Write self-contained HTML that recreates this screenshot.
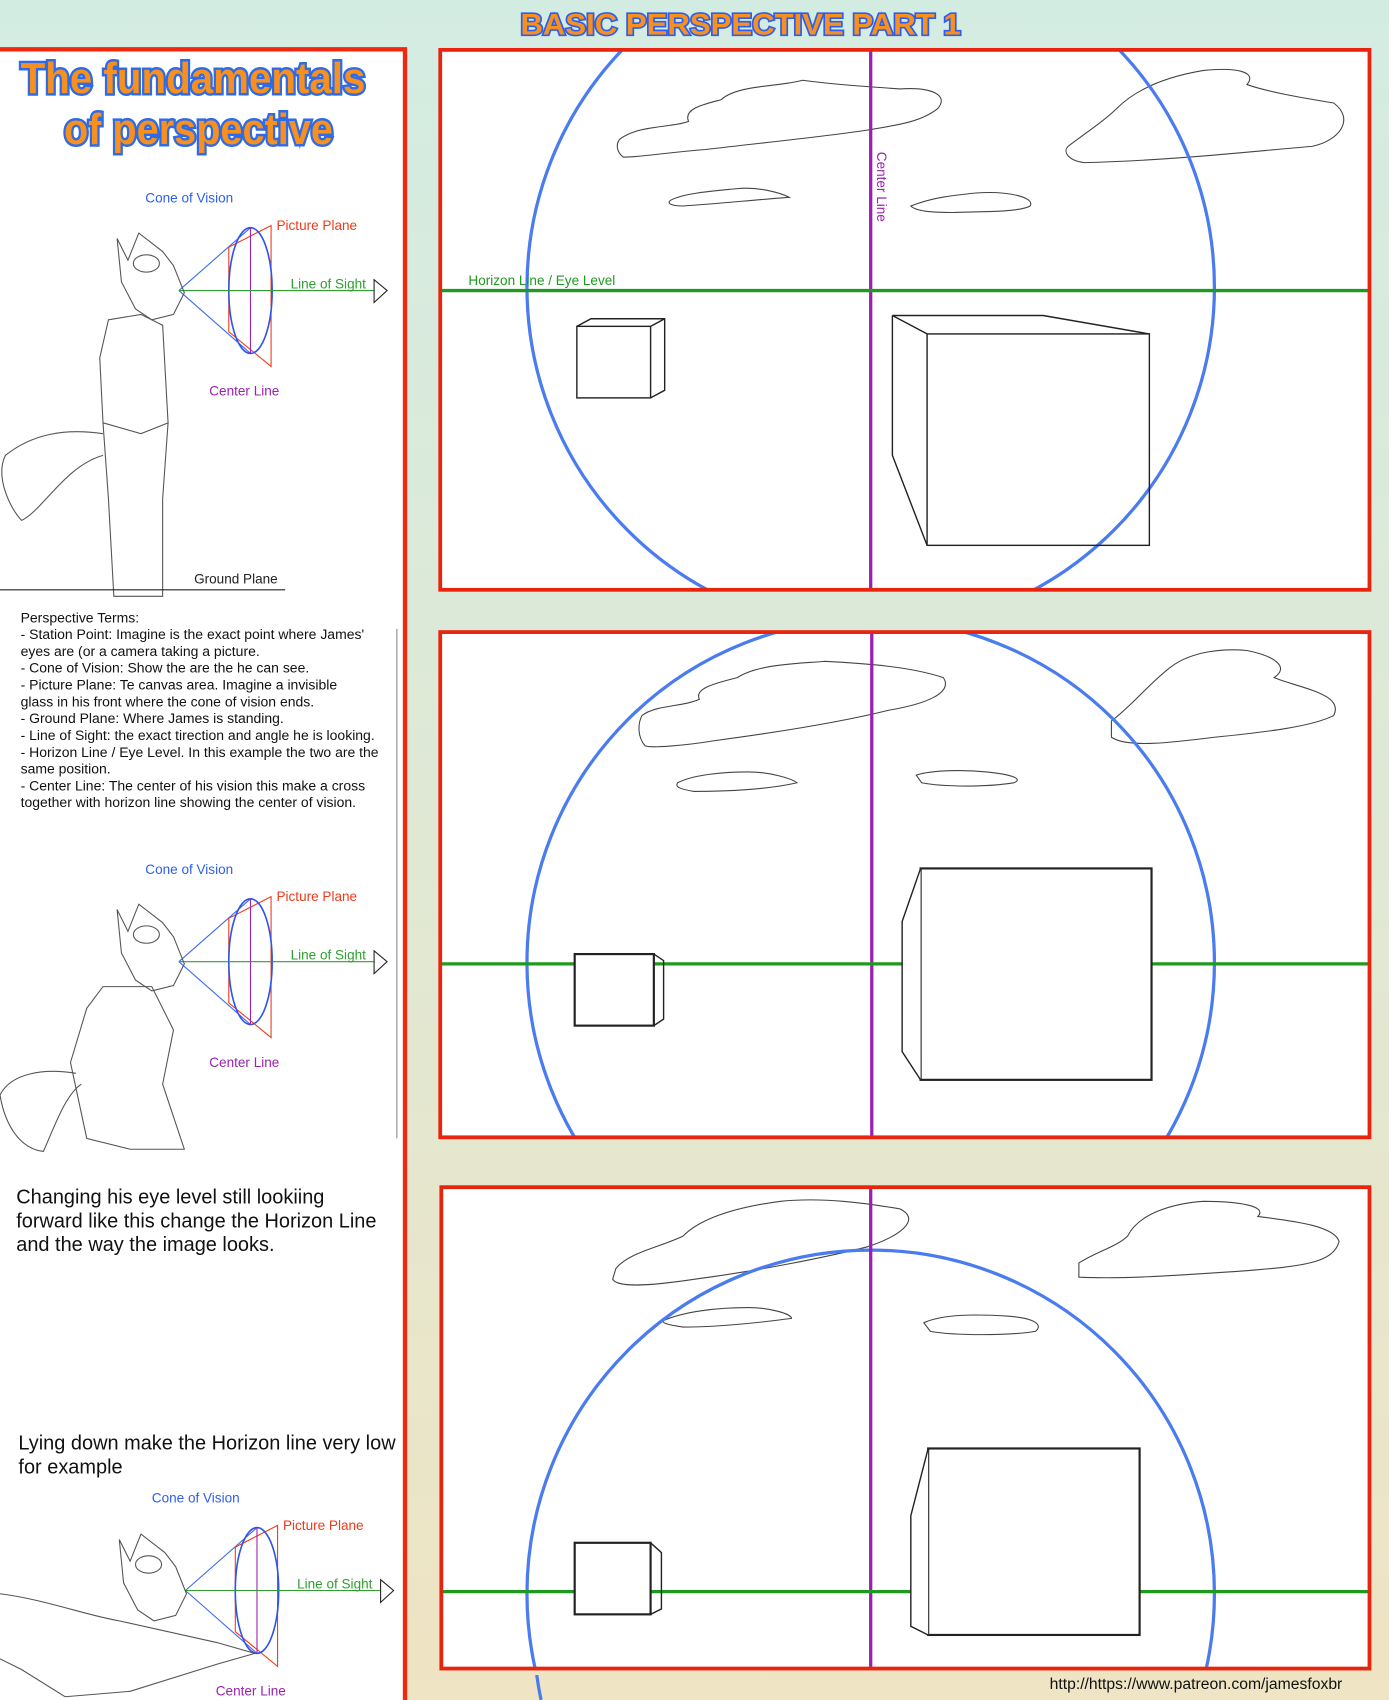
<!DOCTYPE html>
<html><head><meta charset="utf-8"><style>
html,body{margin:0;padding:0;overflow:hidden;width:1389px;height:1700px;}
svg{display:block;}
text{font-family:"Liberation Sans",sans-serif;}
</style></head><body>
<svg width="1389" height="1700" viewBox="0 0 1281 1568" preserveAspectRatio="none" xmlns="http://www.w3.org/2000/svg">
<defs>
<linearGradient id="bg" x1="0" y1="0" x2="0" y2="1">
<stop offset="0" stop-color="#d3ece2"/><stop offset="0.5" stop-color="#e0e8d4"/><stop offset="1" stop-color="#efe4c3"/>
</linearGradient>
<clipPath id="c1"><rect x="407" y="47" width="855" height="496"/></clipPath>
<clipPath id="c2"><rect x="407" y="584" width="855" height="464"/></clipPath>
<clipPath id="c3"><rect x="408" y="1096" width="854" height="442"/></clipPath>
<g id="cone">
<line x1="165" y1="268" x2="231" y2="210" stroke="#3b6cf0" stroke-width="1"/>
<line x1="165" y1="268" x2="231" y2="326" stroke="#3b6cf0" stroke-width="1"/>
<path d="M211 228 L250 208 L250 338 L211 306 Z" fill="none" stroke="#f03a1a" stroke-width="1"/>
<ellipse cx="231" cy="268" rx="20" ry="58" fill="none" stroke="#2d55e8" stroke-width="1.5"/>
<line x1="231" y1="210" x2="231" y2="326" stroke="#a020b0" stroke-width="1"/>
<line x1="165" y1="268" x2="345" y2="268" stroke="#2fa02f" stroke-width="1"/>
<path d="M345 258 L357 268 L345 279 Z" fill="#fff" stroke="#222" stroke-width="1"/>
<text x="134" y="187" font-size="12.5" fill="#2d5ef0">Cone of Vision</text>
<text x="255" y="212" font-size="12.5" fill="#f03a1a">Picture Plane</text>
<text x="268" y="266" font-size="12.5" fill="#2fa02f">Line of Sight</text>
<text x="193" y="365" font-size="12.5" fill="#9a22b0">Center Line</text>
</g>
</defs>
<rect width="1281" height="1568" fill="url(#bg)"/>
<text x="683" y="32" font-size="27" font-weight="bold" text-anchor="middle" fill="#f7901e" stroke="#2d5ef0" stroke-width="3" paint-order="stroke" textLength="406" lengthAdjust="spacingAndGlyphs">BASIC PERSPECTIVE PART 1</text>

<rect x="0" y="44" width="374" height="1524" fill="#fff"/>
<path d="M0 45.5 H373.5 V1568" fill="none" stroke="#f2280e" stroke-width="4"/>
<g font-size="40" font-weight="bold" fill="#f7901e" stroke="#2d6be8" stroke-width="4.5" paint-order="stroke" text-anchor="middle">
<text x="178" y="86" textLength="318" lengthAdjust="spacingAndGlyphs">The fundamentals</text>
<text x="183" y="133" textLength="248" lengthAdjust="spacingAndGlyphs">of perspective</text>
</g>
<use href="#cone"/>
<use href="#cone" y="619"/>
<use href="#cone" x="6" y="1199"/>

<g fill="none" stroke="#555" stroke-width="1">
<path d="M108 220 L118 240 L128 215 L150 232 L160 245 L170 270 L160 290 L140 295 L125 285 L112 260 Z"/>
<ellipse cx="135" cy="243" rx="12" ry="8"/>
<path d="M100 295 L130 290 L150 300 L155 390 L130 400 L95 390 L92 330 Z"/>
<path d="M95 390 L100 460 L105 550 L150 550 L150 460 L155 390"/>
<path d="M95 400 C60 395 30 400 5 420 C-5 440 10 470 20 480 C40 470 60 430 95 420"/>
<line x1="0" y1="544" x2="263" y2="544" stroke="#222"/>
<path d="M108 839 L118 859 L128 834 L150 851 L160 864 L170 889 L160 909 L140 914 L125 904 L112 879 Z"/>
<ellipse cx="135" cy="862" rx="12" ry="8"/>
<path d="M95 910 L140 910 L160 950 L150 1000 L170 1060 L120 1060 L80 1050 L65 980 L80 930 Z"/>
<path d="M70 990 C40 985 10 990 0 1010 C5 1040 20 1060 40 1062 C50 1040 60 1010 75 1000"/>
<path d="M110 1420 L120 1440 L130 1415 L152 1432 L162 1445 L172 1470 L162 1490 L142 1495 L127 1485 L114 1460 Z"/>
<ellipse cx="137" cy="1443" rx="12" ry="8"/>
<path d="M0 1470 C40 1475 80 1490 110 1495 L200 1515 L235 1525 L200 1535 L120 1560 L60 1565 L20 1540 L0 1530"/>
</g>
<text x="179" y="538" font-size="12.5" fill="#222">Ground Plane</text>
<line x1="366" y1="580" x2="366" y2="1050" stroke="#888" stroke-width="1"/>
<g font-size="12.9" fill="#111">
<text x="19" y="574">Perspective Terms:</text>
<text x="19" y="589.5">- Station Point: Imagine is the exact point where James'</text>
<text x="19" y="605">eyes are (or a camera taking a picture.</text>
<text x="19" y="620.5">- Cone of Vision: Show the are the he can see.</text>
<text x="19" y="636">- Picture Plane: Te canvas area. Imagine a invisible</text>
<text x="19" y="651.5">glass in his front where the cone of vision ends.</text>
<text x="19" y="667">- Ground Plane: Where James is standing.</text>
<text x="19" y="682.5">- Line of Sight: the exact tirection and angle he is looking.</text>
<text x="19" y="698">- Horizon Line / Eye Level. In this example the two are the</text>
<text x="19" y="713.5">same position.</text>
<text x="19" y="729">- Center Line: The center of his vision this make a cross</text>
<text x="19" y="744.5">together with horizon line showing the center of vision.</text>
</g>
<g font-size="18.4" fill="#111">
<text x="15" y="1110">Changing his eye level still lookiing</text>
<text x="15" y="1132">forward like this change the Horizon Line</text>
<text x="15" y="1154">and the way the image looks.</text>
<text x="17" y="1337">Lying down make the Horizon line very low</text>
<text x="17" y="1359">for example</text>
</g>

<rect x="406" y="46" width="857" height="498" fill="#fff"/>
<g clip-path="url(#c1)" fill="none">
<g stroke="#444" stroke-width="1">
<path d="M572 128 C590 115 620 118 635 112 C630 100 650 96 665 92 C680 78 720 80 740 74 C770 78 800 80 830 82 C860 80 875 88 865 100 C850 112 830 115 800 120 C760 126 700 132 650 138 C620 140 590 145 575 145 C568 140 568 132 572 128 Z"/>
<path d="M618 185 C630 178 660 176 680 174 C700 172 720 178 728 182 C700 184 660 188 630 190 C620 190 615 188 618 185 Z"/>
<path d="M840 190 C860 182 880 180 900 178 C930 176 955 182 950 190 C940 196 900 195 880 196 C860 196 845 195 840 190 Z"/>
<path d="M985 135 C1005 120 1020 110 1030 100 C1050 80 1080 70 1110 65 C1140 62 1160 66 1150 78 C1170 85 1200 90 1230 95 C1250 110 1235 130 1210 135 C1150 140 1080 148 1000 150 C985 148 980 140 985 135 Z"/>
</g>
<circle cx="803" cy="265" r="317" stroke="#4a7cf0" stroke-width="3"/>
<line x1="803" y1="46" x2="803" y2="544" stroke="#9a1fb0" stroke-width="3"/>
<line x1="406" y1="268" x2="1263" y2="268" stroke="#1e9a1e" stroke-width="3"/>
<g stroke="#222" stroke-width="1.3">
<rect x="532" y="301" width="68" height="66"/>
<path d="M532 301 L545 294 L613 294 L613 360 L600 367 M600 301 L613 294"/>
<rect x="855" y="308" width="205" height="195"/>
<path d="M855 308 L823 291 L962 291 L1060 308 M823 291 L823 420 L855 503"/>
</g>
</g>
<text x="432" y="263" font-size="12.5" fill="#1e9a1e">Horizon Line / Eye Level</text>
<text transform="translate(809,140) rotate(90)" font-size="12.5" fill="#9a1fb0">Center Line</text>
<rect x="406" y="46" width="857" height="498" fill="none" stroke="#e8240e" stroke-width="3.5"/>

<rect x="406" y="583" width="857" height="466" fill="#fff"/>
<g clip-path="url(#c2)" fill="none">
<g stroke="#444" stroke-width="1">
<path d="M592 660 C605 650 630 652 645 645 C640 635 660 630 680 625 C700 612 740 612 760 610 C800 612 840 615 870 625 C880 640 850 650 820 655 C780 665 720 675 660 683 C630 688 600 690 595 688 C588 680 588 668 592 660 Z"/>
<path d="M625 722 C640 714 670 712 690 712 C710 712 730 718 735 722 C710 728 670 730 640 730 C628 728 622 726 625 722 Z"/>
<path d="M845 715 C860 710 890 710 910 712 C930 714 945 718 935 722 C910 726 870 726 850 722 Z"/>
<path d="M1025 665 C1045 650 1060 630 1080 615 C1100 600 1130 598 1150 600 C1175 605 1190 615 1175 625 C1200 635 1240 640 1230 660 C1210 670 1170 675 1120 680 C1080 685 1040 690 1025 680 Z"/>
</g>
<circle cx="803" cy="888" r="317" stroke="#4a7cf0" stroke-width="3"/>
<line x1="804" y1="583" x2="804" y2="1049" stroke="#9a1fb0" stroke-width="3"/>
<line x1="406" y1="889" x2="1263" y2="889" stroke="#1e9a1e" stroke-width="3"/>
<rect x="530" y="880" width="73" height="66" fill="#fff" stroke="#222" stroke-width="2"/>
<path d="M603 880 L612 886 L612 940 L603 946" stroke="#222" stroke-width="1.3"/>
<rect x="849" y="801" width="213" height="195" fill="#fff" stroke="#222" stroke-width="2"/>
<path d="M849 801 L832 850 L832 970 L849 996" fill="#fff" stroke="#222" stroke-width="1.3"/>
</g>
<rect x="406" y="583" width="857" height="466" fill="none" stroke="#e8240e" stroke-width="3.5"/>

<rect x="407" y="1095" width="856" height="444" fill="#fff"/>
<g clip-path="url(#c3)" fill="none">
<g stroke="#444" stroke-width="1">
<path d="M568 1170 C580 1155 610 1150 630 1140 C650 1120 690 1112 720 1108 C760 1104 800 1110 830 1115 C850 1125 830 1140 800 1150 C760 1160 700 1172 640 1180 C600 1186 570 1188 565 1180 Z"/>
<path d="M612 1218 C630 1210 660 1206 690 1206 C710 1206 730 1212 730 1216 C700 1220 660 1224 630 1224 C615 1222 610 1220 612 1218 Z"/>
<path d="M852 1220 C870 1212 900 1212 930 1214 C955 1216 962 1222 955 1228 C930 1232 880 1232 858 1228 Z"/>
<path d="M995 1165 C1010 1155 1030 1150 1040 1140 C1050 1120 1080 1110 1110 1108 C1140 1108 1170 1112 1160 1122 C1190 1126 1230 1130 1235 1145 C1230 1165 1200 1168 1150 1172 C1090 1176 1040 1180 995 1178 Z"/>
</g>
<circle cx="803" cy="1470" r="317" stroke="#4a7cf0" stroke-width="3"/>
<line x1="803" y1="1095" x2="803" y2="1539" stroke="#9a1fb0" stroke-width="3"/>
<line x1="407" y1="1468" x2="1263" y2="1468" stroke="#1e9a1e" stroke-width="3"/>
<rect x="530" y="1423" width="70" height="66" fill="#fff" stroke="#222" stroke-width="2"/>
<path d="M600 1423 L610 1432 L610 1484 L600 1489" stroke="#222" stroke-width="1.3"/>
<rect x="856" y="1336" width="195" height="172" fill="#fff" stroke="#222" stroke-width="2"/>
<path d="M856 1336 L840 1398 L840 1500 L856 1508" fill="#fff" stroke="#222" stroke-width="1.3"/>
</g>
<path d="M495 1545 A317 317 0 0 0 499 1568" fill="none" stroke="#4a7cf0" stroke-width="3"/>
<rect x="407" y="1095" width="856" height="444" fill="none" stroke="#e8240e" stroke-width="3.5"/>
<text x="968" y="1558" font-size="14.5" fill="#111">http://https://www.patreon.com/jamesfoxbr</text>
</svg>
</body></html>
